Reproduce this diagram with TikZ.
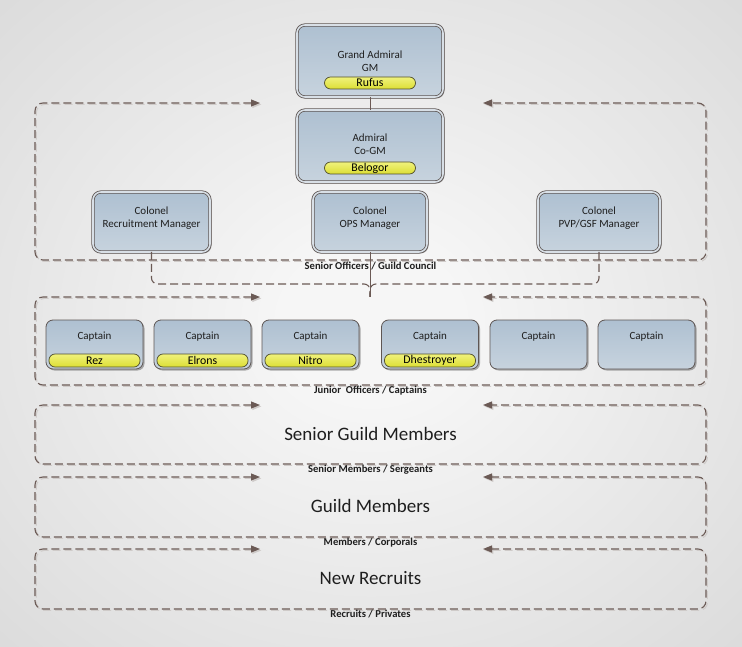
\documentclass[tikz,border=0pt]{standalone}
\usepackage{fontspec}
\setmainfont{Carlito}
\usetikzlibrary{arrows.meta,shadows,calc}
\definecolor{lnc}{HTML}{6B5A55}
\definecolor{lnshadow}{HTML}{CFCBC9}
\definecolor{bdc}{HTML}{5E5654}
\definecolor{boxtop}{HTML}{AEC0D1}
\definecolor{boxbot}{HTML}{C7D3DE}
\definecolor{boxedge}{HTML}{D8DFE6}
\definecolor{pilltop}{HTML}{F0F27C}
\definecolor{pillbot}{HTML}{DCDE34}
\definecolor{pillbd}{HTML}{4F4E2E}
\definecolor{txt}{HTML}{1E1E1E}
\definecolor{bgin}{HTML}{F6F6F6}
\definecolor{bgmid}{HTML}{DCDCDC}
\definecolor{bgout}{HTML}{BDBDBD}
\pgfdeclareradialshading{bgshade}{\pgfpoint{0bp}{0bp}}{color(0bp)=(bgin); color(6bp)=(bgin); color(35bp)=(bgmid); color(58bp)=(bgout); color(75bp)=(bgout)}
\tikzset{
  grpbox/.style={rectangle, inner sep=0pt, outer sep=0pt},
  grpline/.style={draw=lnc, line width=1.1pt, dash pattern=on 8pt off 4pt, rounded corners=8pt, {Triangle[length=9pt,width=7pt]}-{Triangle[length=9pt,width=7pt]}},
  grpshadow/.style={grpline, draw=lnshadow, fill=none, transform canvas={shift={(1.4pt,-1.4pt)}}},
  grplabel/.style={font=\fontsize{10.6}{11}\selectfont\bfseries, text=txt, inner sep=0pt},
  biglabel/.style={font=\fontsize{19}{21}\selectfont, text=txt, inner sep=0pt},
  topbox/.style={rectangle, rounded corners=8pt, draw=bdc, line width=0.8pt, double=boxedge, double distance=1.6pt,
    top color=boxtop, bottom color=boxbot, inner sep=0pt, outer sep=0pt,
    drop shadow={shadow xshift=1.5pt, shadow yshift=-1.5pt, opacity=0.3, fill=black}},
  capbox/.style={rectangle, rounded corners=7pt, draw=bdc, line width=0.8pt,
    top color=boxtop, bottom color=boxbot, inner sep=0pt, outer sep=0pt,
    minimum width=97pt, minimum height=49pt,
    drop shadow={shadow xshift=1.5pt, shadow yshift=-1.5pt, opacity=0.3, fill=black}},
  boxtext/.style={align=center, font=\fontsize{11}{13}\selectfont, text=txt, inner sep=0pt},
  pill/.style={rectangle, rounded corners=6pt, draw=pillbd, line width=0.7pt, top color=pilltop, bottom color=pillbot,
    minimum width=91pt, inner sep=0pt, outer sep=0pt, font=\fontsize{11.8}{12}\selectfont, text=black},
  conn/.style={draw=lnc, line width=0.9pt},
  dconn/.style={draw=lnc, line width=1.1pt, dash pattern=on 8pt off 4pt, rounded corners=6pt},
}
\begin{document}
\begin{tikzpicture}[x=1pt,y=-1pt]
\useasboundingbox (0,0) rectangle (742,647);
\shade[shading=bgshade] (0,0) rectangle (742,647);

% group frames
\node[grpbox, minimum width=671pt, minimum height=157pt] (gso) at (370.5,181.5) {};
\node[grpbox, minimum width=671pt, minimum height=88pt] (gjo) at (370.5,341) {};
\node[grpbox, minimum width=671pt, minimum height=59pt] (gsm) at (370.5,434.5) {};
\node[grpbox, minimum width=671pt, minimum height=60pt] (ggm) at (370.5,507) {};
\node[grpbox, minimum width=671pt, minimum height=60pt] (gnr) at (370.5,579) {};

\foreach \g in {gso,gjo,gsm,ggm,gnr}{
  \draw[grpshadow] ([xshift=-110.5pt]\g.north) -- (\g.north west) -- (\g.south west) -- (\g.south east) -- (\g.north east) -- ([xshift=112.5pt]\g.north);
  \draw[grpline] ([xshift=-110.5pt]\g.north) -- (\g.north west) -- (\g.south west) -- (\g.south east) -- (\g.north east) -- ([xshift=112.5pt]\g.north);
}

% group labels
\node[grplabel] (gso-l) at ([yshift=-6pt]gso.south) {Senior Officers / Guild Council};
\node[grplabel] (gjo-l) at ([yshift=-6pt]gjo.south) {Junior~~Officers / Captains};
\node[grplabel] (gsm-l) at ([yshift=-6pt]gsm.south) {Senior Members / Sergeants};
\node[grplabel] (ggm-l) at ([yshift=-5.5pt]ggm.south) {Members / Corporals};
\node[grplabel] (gnr-l) at ([yshift=-5.5pt]gnr.south) {Recruits / Privates};

\node[biglabel] (gsm-t) at (370.5,434) {Senior Guild Members};
\node[biglabel] (ggm-t) at (370.5,506) {Guild Members};
\node[biglabel] (gnr-t) at (370.5,578) {New Recruits};

% senior officer boxes
\node[topbox, minimum width=146pt, minimum height=72pt] (ga) at (370,61) {};
\node[topbox, minimum width=146pt, minimum height=72pt] (adm) at (370,146) {};
\node[topbox, minimum width=117pt, minimum height=60pt] (rec) at (151.5,222) {};
\node[topbox, minimum width=114pt, minimum height=60pt] (ops) at (370,222) {};
\node[topbox, minimum width=122pt, minimum height=60pt] (pvp) at (599,222) {};

\node[boxtext] (ga-t) at (370,61.5) {Grand Admiral\\GM};
\node[pill, minimum height=12pt] (ga-p) at (370,83) {Rufus};
\node[boxtext] (adm-t) at (370,144.5) {Admiral\\Co-GM};
\node[pill, minimum height=12pt] (adm-p) at (370,168) {Belogor};
\node[boxtext] (rec-t) at (151.5,218.5) {Colonel\\Recruitment Manager};
\node[boxtext] (ops-t) at (370,218.5) {Colonel\\OPS Manager};
\node[boxtext] (pvp-t) at (599,218.5) {Colonel\\PVP/GSF Manager};

% connectors
\draw[conn] (ga.south) -- (adm.north);
\coordinate (jn) at (370,284);
\coordinate (jb) at (370,297);
\draw[dconn] (rec.south) |- (jn) -- (jb);
\draw[dconn] (pvp.south) |- (jn) -- (jb);
\draw[conn] (ops.south) -- (jb);

% captains
\foreach \i/\x in {1/94.5, 2/202.5, 3/310.5, 4/430, 5/538.5, 6/646.5}{
  \node[capbox] (cap\i) at (\x,344.5) {};
  \node[boxtext] (cap\i-t) at (\x,337) {Captain};
}
\foreach \i/\n in {1/Rez, 2/Elrons, 3/Nitro, 4/Dhestroyer}{
  \node[pill, minimum height=13pt] (cap\i-p) at ([yshift=8.5pt]cap\i.south) {\n};
}
\end{tikzpicture}
\end{document}
